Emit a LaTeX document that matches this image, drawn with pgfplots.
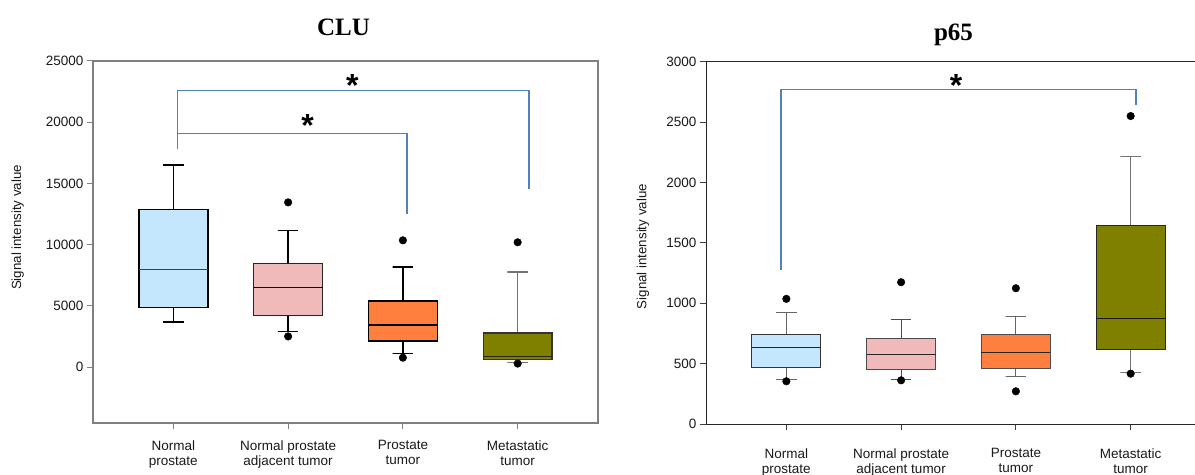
\documentclass[border=0pt]{standalone}
\usepackage{pgfplots}
\pgfplotsset{compat=1.18}
\usepackage{fontspec}
\setmainfont{Liberation Sans}
\newfontfamily\titlefont{Liberation Serif}
\definecolor{cblue}{RGB}{196,231,253}
\definecolor{cpink}{RGB}{240,185,186}
\definecolor{corange}{RGB}{255,127,63}
\definecolor{colive}{RGB}{128,128,0}
\definecolor{brk}{RGB}{79,129,189}
\tikzset{star/.style={font=\bfseries\fontsize{32bp}{32bp}\selectfont, yshift=-7bp}}
\pgfplotsset{
  mybox/.style={
    scale only axis, width=505bp, height=362bp,
    xmin=0.3, xmax=4.7,
    xtick={1,2,3,4},
    xticklabels={{Normal\\prostate},{Normal prostate\\adjacent tumor},{Prostate\\tumor},{Metastatic\\tumor}},
    xticklabel style={align=center, font=\fontsize{13.5bp}{15bp}\selectfont, text=black!90},
    yticklabel style={font=\fontsize{13.5bp}{15bp}\selectfont, text=black!90},
    scaled y ticks=false,
    tick align=outside, xtick pos=bottom, ytick pos=left,
    major tick length=6bp,
    ylabel={Signal intensity value},
    ylabel style={font=\fontsize{13.3bp}{15bp}\selectfont, anchor=center, text=black!90},
    title style={font=\titlefont\bfseries\fontsize{25bp}{25bp}\selectfont, anchor=base},
    unbounded coords=jump,
  },
  outl/.style={only marks, mark=*, mark size=3.8bp, mark options={fill=black, draw=black, line width=0.4bp}},
}
\begin{document}
\begin{tikzpicture}
% ---------------- CLU ----------------
\begin{axis}[mybox, at={(93bp,52bp)}, anchor=south west,
  ymin=-4575, ymax=25000,
  ytick={0,5000,10000,15000,20000,25000},
  yticklabels={0,5000,10000,15000,20000,25000},
  axis line style={draw=black!50, line width=1.1bp},
  tick style={draw=black!50, line width=1bp},
  title={CLU}, title style={yshift=20bp, xshift=-2bp},
  ylabel style={at={(axis description cs:-0.149,0.54)}},
  xticklabel style={yshift=-8bp},
]
\addplot[brk, line width=1.5bp] coordinates {(1.037,17840) (1.037,22600) (4.10,22600) (4.10,14515)};
\addplot[brk, line width=1.5bp] coordinates {(1.037,19060) (3.035,19060) (3.035,12530)};
\node[star] at (axis cs:2.56,23550) {*};
\node[star] at (axis cs:2.17,20340) {*};
% Normal prostate
\addplot[black, line width=1.5bp] coordinates {(1,4850) (1,3680) (0.91,3680) (1.09,3680) (nan,nan) (1,12850) (1,16500) (0.91,16500) (1.09,16500)};
\addplot[fill=cblue, draw=black, line width=1.5bp] coordinates {(0.7,4850) (1.3,4850) (1.3,12850) (0.7,12850)} --cycle;
\addplot[black!75, line width=1bp] coordinates {(0.7,7950) (1.3,7950)};
% Normal prostate adjacent tumor
\addplot[black, line width=1.5bp] coordinates {(2,4190) (2,2910) (1.91,2910) (2.09,2910) (nan,nan) (2,8440) (2,11170) (1.91,11170) (2.09,11170)};
\addplot[fill=cpink, draw=black!85, line width=1.5bp] coordinates {(1.7,4190) (2.3,4190) (2.3,8440) (1.7,8440)} --cycle;
\addplot[black, line width=1bp] coordinates {(1.7,6480) (2.3,6480)};
\addplot[outl] coordinates {(2,13450) (2,2500)};
% Prostate tumor
\addplot[black, line width=1.5bp] coordinates {(3,2120) (3,1090) (2.91,1090) (3.09,1090) (nan,nan) (3,5390) (3,8170) (2.91,8170) (3.09,8170)};
\addplot[fill=corange, draw=black, line width=1.5bp] coordinates {(2.7,2120) (3.3,2120) (3.3,5390) (2.7,5390)} --cycle;
\addplot[black, line width=1.5bp] coordinates {(2.7,3430) (3.3,3430)};
\addplot[outl] coordinates {(3,10350) (3,760)};
% Metastatic tumor
\addplot[black!55, line width=1.2bp] coordinates {(4,600) (4,350) (3.91,350) (4.09,350) (nan,nan) (4,2780) (4,7760) (3.91,7760) (4.09,7760)};
\addplot[fill=colive, draw=black!80, line width=1.2bp] coordinates {(3.7,600) (4.3,600) (4.3,2780) (3.7,2780)} --cycle;
\addplot[black!85, line width=1.4bp] coordinates {(3.7,870) (4.3,870)};
\addplot[outl] coordinates {(4,10190) (4,280)};
\end{axis}
% ---------------- p65 ----------------
\begin{axis}[mybox, at={(706bp,51bp)}, anchor=south west,
  ymin=0, ymax=3000,
  ytick={0,500,1000,1500,2000,2500,3000},
  yticklabels={0,500,1000,1500,2000,2500,3000},
  axis line style={draw=black!85, line width=1bp},
  tick style={draw=black!75, line width=1bp},
  title={p65}, title style={yshift=16bp, xshift=-5bp},
  ylabel style={at={(axis description cs:-0.1248,0.49)}},
  xticklabel style={yshift=-15bp},
]
\addplot[brk, line width=1.7bp] coordinates {(0.956,1275) (0.956,2773) (4.046,2773) (4.046,2646)};
\node[star] at (axis cs:2.48,2867) {*};
% Normal prostate
\addplot[black!60, line width=1bp] coordinates {(1,467) (1,365) (0.91,365) (1.09,365) (nan,nan) (1,738) (1,923) (0.91,923) (1.09,923)};
\addplot[fill=cblue, draw=black!80, line width=1bp] coordinates {(0.7,467) (1.3,467) (1.3,738) (0.7,738)} --cycle;
\addplot[black!85, line width=1bp] coordinates {(0.7,630) (1.3,630)};
\addplot[outl] coordinates {(1,1037) (1,354)};
% Normal prostate adjacent tumor
\addplot[black!70, line width=1bp] coordinates {(2,453) (2,365) (1.91,365) (2.09,365) (nan,nan) (2,708) (2,863) (1.91,863) (2.09,863)};
\addplot[fill=cpink, draw=black!70, line width=1bp] coordinates {(1.7,453) (2.3,453) (2.3,708) (1.7,708)} --cycle;
\addplot[black!85, line width=1bp] coordinates {(1.7,572) (2.3,572)};
\addplot[outl] coordinates {(2,1175) (2,362)};
% Prostate tumor
\addplot[black!60, line width=1bp] coordinates {(3,462) (3,395) (2.91,395) (3.09,395) (nan,nan) (3,738) (3,893) (2.91,893) (3.09,893)};
\addplot[fill=corange, draw=black!70, line width=1bp] coordinates {(2.7,462) (3.3,462) (3.3,738) (2.7,738)} --cycle;
\addplot[black!85, line width=1bp] coordinates {(2.7,594) (3.3,594)};
\addplot[outl] coordinates {(3,1125) (3,271)};
% Metastatic tumor
\addplot[black!55, line width=1bp] coordinates {(4,617) (4,423) (3.91,423) (4.09,423) (nan,nan) (4,1642) (4,2217) (3.91,2217) (4.09,2217)};
\addplot[fill=colive, draw=black!85, line width=1bp] coordinates {(3.7,617) (4.3,617) (4.3,1642) (3.7,1642)} --cycle;
\addplot[black!90, line width=1bp] coordinates {(3.7,871) (4.3,871)};
\addplot[outl] coordinates {(4,2552) (4,417)};
\end{axis}
\pgfresetboundingbox
\useasboundingbox (0,0) rectangle (1195bp,475bp);
\end{tikzpicture}
\end{document}
